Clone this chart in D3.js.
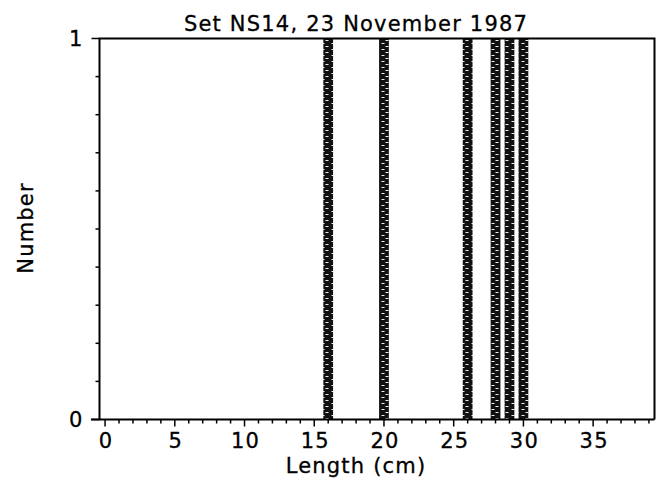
<!DOCTYPE html>
<html>
<head>
<meta charset="utf-8">
<script src="https://cdn.jsdelivr.net/npm/d3@7"></script>
<style>
  body { margin: 0; background: #fff; }
  text { font-family: "DejaVu Sans", sans-serif; fill: #000; font-size: 21px; letter-spacing: 1.2px; stroke: #000; stroke-width: 0.3px; }
</style>
</head>
<body>
<svg width="663" height="480"></svg>
<script>
// data: one fish per length class
const lengths = [16, 20, 26, 28, 29, 30];
const counts = [1, 1, 1, 1, 1, 1];
const xMajorTicks = [0, 5, 10, 15, 20, 25, 30, 35];
const yMajorTicks = [0, 1];

const title = "Set NS14, 23 November 1987";

const svg = d3.select("svg");
const mLeft = 99.5, mRight = 654.5, mTop = 38.5, mBottom = 419.5;

const x = d3.scaleLinear().domain([-0.4, 39.4]).range([mLeft, mRight]);
const y = d3.scaleLinear().domain([0, 1]).range([mBottom, mTop]);

// hatched fill like the old plotter bars
const defs = svg.append("defs");
const pat = defs.append("pattern")
  .attr("id", "hatch")
  .attr("patternUnits", "userSpaceOnUse")
  .attr("width", 10).attr("height", 6);
pat.append("rect").attr("width", 10).attr("height", 6).attr("fill", "#111");
pat.append("rect").attr("x", 1.5).attr("y", 1).attr("width", 3).attr("height", 1).attr("fill", "#eee");
pat.append("rect").attr("x", 5.5).attr("y", 4).attr("width", 3).attr("height", 1).attr("fill", "#eee");

const bw = 0.7;
svg.append("g").selectAll("rect")
  .data(lengths.map((l, i) => ({ l, c: counts[i] })))
  .enter().append("rect")
    .attr("x", d => x(d.l - bw / 2))
    .attr("y", d => y(d.c))
    .attr("width", d => x(d.l + bw / 2) - x(d.l - bw / 2))
    .attr("height", d => y(0) - y(d.c))
    .attr("fill", "url(#hatch)");

// frame
svg.append("path")
  .attr("d", `M${mLeft},${mBottom}V${mTop}H${mRight}V${mBottom}`)
  .attr("fill", "none").attr("stroke", "#000").attr("stroke-width", 2);

// x axis: major every 5, minor every 1
const xAxis = svg.append("g").attr("transform", `translate(0,${mBottom})`);
xAxis.append("line").attr("x1", 91).attr("x2", mRight)
  .attr("stroke", "#000").attr("stroke-width", 2);
xAxis.selectAll(".minor").data(d3.range(0, 40))
  .enter().append("line")
    .attr("x1", d => x(d)).attr("x2", d => x(d))
    .attr("y1", 0).attr("y2", d => d % 5 === 0 ? 7 : 4)
    .attr("stroke", "#000").attr("stroke-width", 1.5);
xAxis.selectAll(".lab").data(xMajorTicks)
  .enter().append("text")
    .attr("x", d => x(d) + 1).attr("y", 28)
    .attr("text-anchor", "middle")
    .text(d => d);

// y axis: labels at 0 and 1, minor ticks every 0.1
const yAxis = svg.append("g").attr("transform", `translate(${mLeft},0)`);
yAxis.selectAll(".minor").data(d3.range(0, 11).map(i => i / 10))
  .enter().append("line")
    .attr("y1", d => y(d)).attr("y2", d => y(d))
    .attr("x1", d => (Math.abs(d) < 1e-9 || Math.abs(d - 1) < 1e-9) ? -8 : -4).attr("x2", 0)
    .attr("stroke", "#000").attr("stroke-width", 1.5);
yAxis.selectAll(".lab").data(yMajorTicks)
  .enter().append("text")
    .attr("x", -16).attr("y", d => y(d) + 7)
    .attr("text-anchor", "end")
    .text(d => d);

svg.append("text")
  .attr("x", 356).attr("y", 31)
  .attr("text-anchor", "middle")
  .text(title);

svg.append("text")
  .attr("x", 356).attr("y", 473)
  .attr("text-anchor", "middle")
  .text("Length (cm)");

svg.append("text")
  .attr("transform", "translate(33,228) rotate(-90)")
  .attr("text-anchor", "middle")
  .text("Number");
</script>
</body>
</html>
